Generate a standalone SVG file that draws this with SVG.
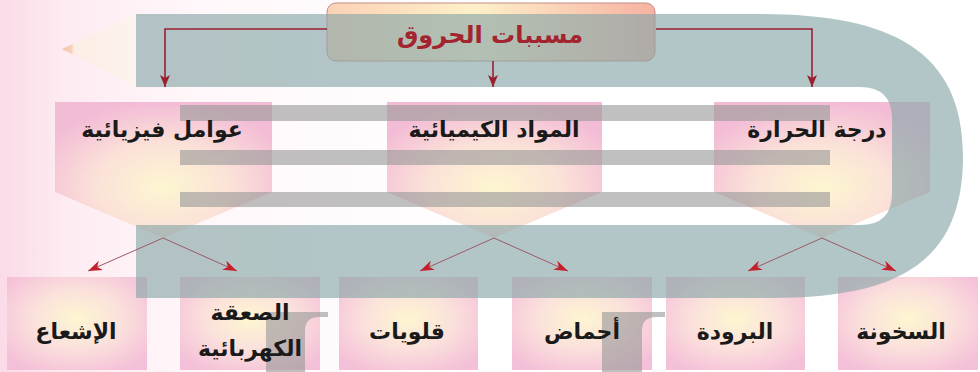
<svg xmlns="http://www.w3.org/2000/svg" width="980" height="372" viewBox="0 0 980 372">
<defs>
<linearGradient id="bg" x1="0" y1="0" x2="1" y2="0">
<stop offset="0" stop-color="#fadbe7"/>
<stop offset="0.07" stop-color="#fdecf2"/>
<stop offset="0.2" stop-color="#fff7f9"/>
<stop offset="0.5" stop-color="#ffffff"/>
</linearGradient>
<linearGradient id="farrow" x1="0" y1="0" x2="1" y2="0">
<stop offset="0" stop-color="#f1c29d"/>
<stop offset="0.13" stop-color="#f5d3bb"/>
<stop offset="0.16" stop-color="#fcede4"/>
<stop offset="1" stop-color="#fdf3ee"/>
</linearGradient>
<linearGradient id="topfill" x1="0" y1="0" x2="1" y2="0">
<stop offset="0" stop-color="#fbd2b5"/>
<stop offset="0.45" stop-color="#fdf0c8"/>
<stop offset="1" stop-color="#f6b2a2"/>
</linearGradient>
<radialGradient id="midfill" cx="0.5" cy="0.62" r="0.62">
<stop offset="0" stop-color="#fdf6d0"/>
<stop offset="0.5" stop-color="#fbe2d8"/>
<stop offset="1" stop-color="#f3bcd6"/>
</radialGradient>
<radialGradient id="botfill" cx="0.5" cy="0.45" r="0.65">
<stop offset="0" stop-color="#fdf6d0"/>
<stop offset="0.5" stop-color="#fbe0dc"/>
<stop offset="1" stop-color="#f4bfd8"/>
</radialGradient>
<marker id="ah1" viewBox="0 0 12 10" markerWidth="12" markerHeight="10" refX="12" refY="5" orient="auto" markerUnits="userSpaceOnUse">
<path d="M0,0 L12,5 L0,10 L3,5 Z" fill="#9a2030"/>
</marker>
<marker id="ah2" viewBox="0 0 14 10" markerWidth="14" markerHeight="10" refX="14" refY="5" orient="auto" markerUnits="userSpaceOnUse">
<path d="M0,0 L14,5 L0,10 L4,5 Z" fill="#c4202c"/>
</marker>
<style>
.mid{fill:url(#midfill);}
.bot{fill:url(#botfill);}
.grey{fill:#999999;opacity:0.62;}
.c1{fill:none;stroke:#9a2030;stroke-width:1.6;marker-end:url(#ah1);}
.c2{fill:none;stroke:#9a5a66;stroke-width:1;marker-end:url(#ah2);}
.t{font-family:"DejaVu Sans",sans-serif;font-weight:bold;text-anchor:middle;fill:#1a1a1a;}
.tt{font-family:"DejaVu Sans",sans-serif;font-weight:bold;text-anchor:middle;fill:#a3232f;}
</style>
</defs>

<rect x="0" y="0" width="980" height="372" fill="url(#bg)"/>
<polygon points="62,49 136,14 136,87" fill="url(#farrow)"/>

<g id="node-top">
<rect x="327" y="3" width="328" height="58" rx="9" fill="url(#topfill)" stroke="#c48a8a" stroke-width="1"/>
</g>
<g id="node-physical">
<polygon class="mid" points="55,102 272,102 272,192 163,238 55,192"/>
</g>
<g id="node-chemical">
<polygon class="mid" points="387,102 602,102 602,192 494,238 387,192"/>
</g>
<g id="node-temperature">
<polygon class="mid" points="714,102 930,102 930,192 822,238 714,192"/>
</g>
<g id="node-radiation"><rect class="bot" x="7" y="277" width="140" height="93"/></g>
<g id="node-electric"><rect class="bot" x="180" y="277" width="140" height="93"/></g>
<g id="node-alkali"><rect class="bot" x="339" y="277" width="139" height="93"/></g>
<g id="node-acids"><rect class="bot" x="512" y="277" width="140" height="93"/></g>
<g id="node-cold"><rect class="bot" x="666" y="277" width="139" height="93"/></g>
<g id="node-heat"><rect class="bot" x="838" y="277" width="140" height="93"/></g>

<path d="M136,14 H760 C890,14 963,50 963,156 C963,265 895,298 770,298 H136 V225 H860 Q892,225 892,193 V119 Q892,87 860,87 H136 Z" fill="#8aa7a9" opacity="0.65"/>

<rect class="grey" x="180" y="105" width="650" height="16"/>
<rect class="grey" x="180" y="150" width="650" height="15"/>
<rect class="grey" x="180" y="192" width="650" height="15"/>
<path class="grey" d="M266,312 H328 V317 H319 Q305,317 305,331 V372 H266 Z"/>
<path class="grey" d="M602,312 H665 V317 H656 Q642,317 642,331 V372 H602 Z"/>

<g id="connectors">
<polyline class="c1" points="327,29 165,29 165,87"/>
<polyline class="c1" points="493,61 493,87"/>
<polyline class="c1" points="656,29 812,29 812,87"/>
<line class="c2" x1="163" y1="238" x2="88" y2="271"/>
<line class="c2" x1="163" y1="238" x2="237" y2="271"/>
<line class="c2" x1="494" y1="238" x2="420" y2="271"/>
<line class="c2" x1="494" y1="238" x2="568" y2="271"/>
<line class="c2" x1="822" y1="238" x2="748" y2="271"/>
<line class="c2" x1="822" y1="238" x2="896" y2="271"/>
</g>

<text class="tt" x="490" y="43" font-size="24">مسببات الحروق</text>
<text class="t" x="162" y="137" font-size="22">عوامل فيزيائية</text>
<text class="t" x="494" y="137" font-size="22">المواد الكيميائية</text>
<text class="t" x="817" y="137" font-size="22">درجة الحرارة</text>
<text class="t" x="76" y="339" font-size="22">الإشعاع</text>
<text class="t" x="250" y="320" font-size="22">الصعقة</text>
<text class="t" x="250" y="356" font-size="22">الكهربائية</text>
<text class="t" x="407" y="339" font-size="22">قلويات</text>
<text class="t" x="582" y="339" font-size="22">أحماض</text>
<text class="t" x="735" y="339" font-size="22">البرودة</text>
<text class="t" x="901" y="339" font-size="22">السخونة</text>
</svg>
